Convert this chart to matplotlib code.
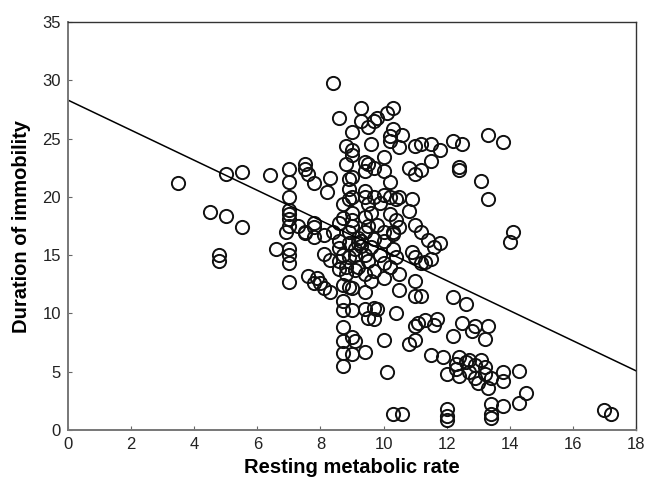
import matplotlib
matplotlib.use("Agg")
import matplotlib.pyplot as plt
import numpy as np

plt.rcParams['font.family'] = ['Liberation Sans', 'DejaVu Sans']

# Resting metabolic rate (x) and duration of immobility (y)
points = [
    (3.5, 21.2), (4.5, 18.7), (4.8, 15.0), (4.8, 14.5), (5.0, 22.0), (5.0, 18.4),
    (5.5, 22.1), (5.5, 17.4), (6.4, 21.9), (6.6, 15.5), (6.9, 17.0),
    (7.0, 22.4), (7.0, 21.3), (7.0, 20.0), (7.0, 18.9), (7.0, 18.5), (7.0, 18.1),
    (7.0, 17.5), (7.0, 15.5), (7.0, 15.0), (7.0, 14.3), (7.0, 12.7),
    (7.5, 22.8), (7.5, 22.4), (7.6, 22.0), (7.3, 17.5), (7.5, 17.0), (7.5, 16.9),
    (7.8, 21.2), (7.8, 17.8), (7.8, 17.4), (7.8, 16.6), (7.6, 13.2), (7.9, 13.0),
    (7.8, 12.6), (8.0, 12.6), (8.1, 12.2), (8.3, 11.8),
    (8.1, 16.7), (8.2, 20.4), (8.3, 21.6), (8.4, 17.0), (8.4, 29.8), (8.3, 14.6), (8.1, 15.1),
    (8.6, 26.8), (8.7, 19.4), (8.7, 18.2), (8.6, 17.8), (8.6, 16.2), (8.6, 15.6),
    (8.7, 15.0), (8.6, 14.5), (8.6, 13.8), (8.7, 12.4), (8.7, 11.1), (8.7, 10.3),
    (8.7, 8.8), (8.7, 7.6), (8.7, 6.6), (8.7, 5.5), (8.8, 24.4), (8.8, 22.8),
    (8.9, 21.5), (8.9, 20.7), (8.9, 19.8), (9.0, 24.0), (9.0, 23.6), (9.0, 21.7),
    (9.0, 20.0), (9.0, 18.6), (9.0, 18.0), (9.0, 17.5), (8.9, 17.0), (8.9, 16.0),
    (8.9, 14.8), (8.8, 14.0), (8.8, 13.4), (8.9, 12.3), (9.0, 12.2), (9.0, 10.3),
    (9.0, 8.0), (9.1, 7.6), (9.0, 6.5), (9.0, 25.6), (9.1, 15.0), (9.1, 15.5),
    (9.2, 16.0), (9.2, 16.5), (9.2, 14.0), (9.3, 15.8), (9.3, 16.2), (9.1, 13.7),
    (9.3, 26.5), (9.3, 27.6), (9.4, 23.0), (9.4, 22.2), (9.5, 22.8), (9.4, 20.5),
    (9.4, 20.0), (9.5, 19.4), (9.4, 18.3), (9.4, 17.0), (9.5, 17.5), (9.4, 15.0),
    (9.5, 14.5), (9.4, 13.4), (9.4, 11.8), (9.4, 10.4), (9.5, 9.6), (9.4, 6.7),
    (9.5, 26.0), (9.6, 24.5), (9.7, 26.5), (9.7, 22.5), (9.7, 20.0), (9.6, 18.6),
    (9.7, 16.4), (9.6, 15.7), (9.6, 12.8), (9.7, 10.5), (9.7, 9.5), (9.8, 10.4),
    (9.7, 13.6), (9.8, 17.6), (9.8, 26.8),
    (9.9, 19.5), (10.0, 22.2), (10.0, 23.4), (10.0, 20.2), (10.0, 17.0), (10.0, 16.2),
    (9.9, 15.0), (10.0, 14.3), (10.0, 13.0), (10.0, 7.7), (10.1, 5.0), (10.1, 27.2),
    (10.2, 25.2), (10.3, 25.8), (10.2, 24.8), (10.3, 27.6), (10.2, 21.3), (10.2, 20.0),
    (10.3, 17.0), (10.2, 18.5), (10.3, 15.5), (10.2, 14.0), (10.3, 16.8), (10.4, 19.8),
    (10.4, 18.0), (10.5, 20.0), (10.5, 24.3), (10.6, 25.3), (10.5, 17.4), (10.4, 14.8),
    (10.5, 13.4), (10.5, 12.0), (10.4, 10.0), (10.3, 1.4), (10.6, 1.4),
    (10.8, 22.5), (10.8, 18.8), (10.9, 19.8), (11.0, 24.4), (11.0, 22.0), (11.0, 17.6),
    (10.9, 15.3), (11.0, 14.8), (11.0, 12.8), (11.0, 11.5), (11.0, 8.9), (10.8, 7.4),
    (11.0, 7.7), (11.1, 9.2), (11.2, 24.5), (11.2, 22.3), (11.2, 17.0), (11.2, 14.3),
    (11.2, 11.5), (11.3, 14.4), (11.4, 16.3), (11.3, 9.4), (11.5, 23.1), (11.5, 14.7),
    (11.5, 6.4), (11.7, 9.5), (11.8, 24.0), (11.6, 9.0), (11.8, 16.0), (11.9, 6.3),
    (11.5, 24.5), (11.6, 15.7),
    (12.0, 4.8), (12.0, 1.8), (12.0, 1.2), (12.0, 0.9), (12.2, 24.8), (12.2, 11.4),
    (12.2, 8.1), (12.3, 5.2), (12.3, 5.7), (12.4, 4.6), (12.4, 6.3), (12.4, 22.6),
    (12.4, 22.3), (12.5, 9.2), (12.5, 24.5), (12.6, 10.8), (12.6, 5.8), (12.7, 5.0),
    (12.7, 6.0), (12.8, 8.5), (12.9, 5.6), (12.9, 8.9), (12.9, 4.5), (13.0, 4.0),
    (13.1, 6.0), (13.1, 21.4), (13.2, 5.4), (13.2, 4.8), (13.2, 7.8), (13.3, 25.3),
    (13.3, 19.8), (13.3, 8.9), (13.3, 3.6), (13.4, 4.5), (13.4, 2.2), (13.4, 1.4),
    (13.4, 1.0), (13.8, 24.7), (13.8, 5.0), (13.8, 4.2), (13.8, 2.1), (14.0, 16.1),
    (14.1, 17.0), (14.3, 5.1), (14.3, 2.3), (14.5, 3.2), (17.0, 1.7), (17.2, 1.4),
]
rmr = [p[0] for p in points]
immobility = [p[1] for p in points]

# regression line
line_x = [0, 18]
intercept = 28.3
slope = -1.29

x_ticks = [0, 2, 4, 6, 8, 10, 12, 14, 16, 18]
y_ticks = [0, 5, 10, 15, 20, 25, 30, 35]

fig = plt.figure(figsize=(6.64, 4.86), dpi=100)
ax = fig.add_axes([0.1024, 0.1152, 0.8554, 0.8395])

ax.plot(rmr, immobility, linestyle='none', marker='o', markersize=9.5,
        markerfacecolor='none', markeredgecolor='#111111', markeredgewidth=1.4)
ax.plot(line_x, [intercept + slope * v for v in line_x], color='black', linewidth=1.1)

ax.set_xlim(0, 18)
ax.set_ylim(0, 35)
ax.set_xticks(x_ticks)
ax.set_yticks(y_ticks)
ax.tick_params(direction='in', length=3, width=0.8, color='#666666',
               labelsize=12, pad=5, labelcolor='#222222')
for side in ['left', 'bottom']:
    ax.spines[side].set_color('#777777')
    ax.spines[side].set_linewidth(1.4)
for side in ['top', 'right']:
    ax.spines[side].set_color('#333333')
    ax.spines[side].set_linewidth(1.0)

ax.set_xlabel('Resting metabolic rate', fontsize=14.5, fontweight='bold', labelpad=4)
ax.set_ylabel('Duration of immobility', fontsize=14.5, fontweight='bold', labelpad=8)

fig.savefig('out.png', dpi=100)
